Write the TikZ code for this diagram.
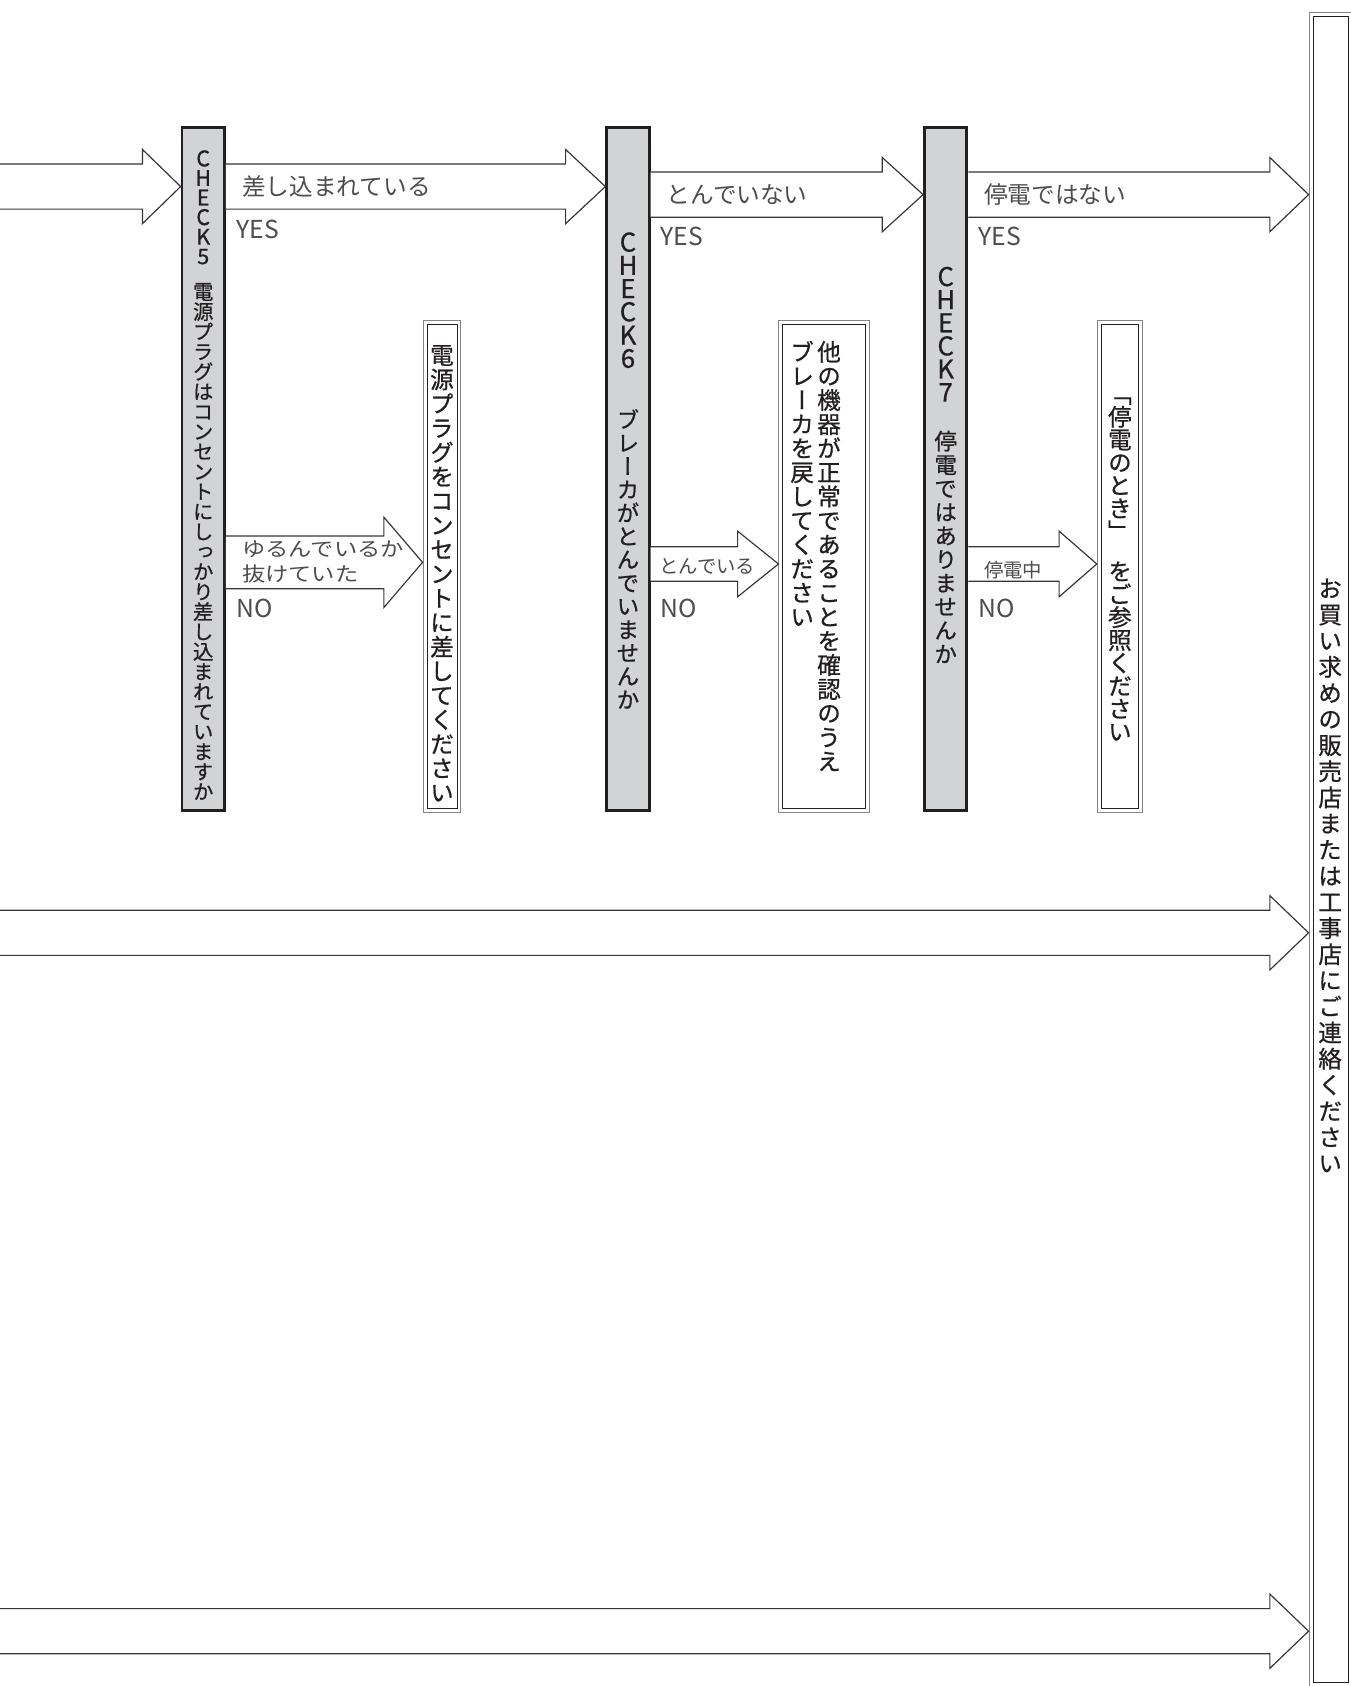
\documentclass[tikz,border=0pt]{standalone}
\usepackage{fontspec}
\setmainfont{Noto Sans CJK JP}
\newfontfamily\tatefont[RawFeature=+vert, FakeBold=0.7]{Noto Sans CJK JP}
\usetikzlibrary{calc, positioning}

\definecolor{ink}{HTML}{231F20}
\definecolor{boxgray}{HTML}{D1D3D4}

% 竖排：一字一行
\def\tateend{tate-end}
\def\tatesp{tate-sp}
\def\tatei#1{\ifx#1\tateend\else\ifx#1\tatesp\vskip.75\baselineskip\else\hbox to 0pt{\hss\smash{#1}\hss}\fi\expandafter\tatei\fi}
\newcommand\tate[3]{{\fontsize{#1}{#2}\selectfont\vtop{\lineskiplimit=-\maxdimen\lineskip=0pt\tatei#3\tateend}}}

% 空心箭头：起点、尖端、杆半宽、头半宽、头长
\newcommand\blockarrow[5]{\filldraw[arrowbody] ($(#1)+(0,#3)$) -- ($(#2)+(-#5,#3)$) -- ($(#2)+(-#5,#4)$) -- (#2)
  -- ($(#2)+(-#5,-#4)$) -- ($(#2)+(-#5,-#3)$) -- ($(#1)+(0,-#3)$);}

\begin{document}
\begin{tikzpicture}[x=1pt, y=-1pt,
  chkbox/.style={draw=ink, line width=2.6pt, fill=boxgray, inner sep=0pt, minimum width=39.4, minimum height=635.4},
  dblbox/.style={draw=ink!55, line width=.9pt, fill=white, inner sep=0pt,
    path picture={\draw[ink, line width=.7pt] ($(path picture bounding box.south west)+(3.6,-3.6)$)
      rectangle ($(path picture bounding box.north east)+(-3.6,3.6)$);}},
  arrowbody/.style={draw=ink!90, line width=1.1pt, fill=white},
  tatetxt/.style={font=\tatefont, text=ink, inner sep=0pt, anchor=north},
  lbl/.style={text=ink!80, inner sep=0pt, anchor=west, font=\fontsize{22}{26}\selectfont},
  yn/.style={lbl, font=\fontsize{23}{26}\selectfont}]
  \useasboundingbox (0,0) rectangle (1256,1568);
  \fill[white] (0,0) rectangle (1256,1568);

  % 判断框（灰）
  \node[chkbox] (chk5) at (189,436) {};
  \node[chkbox] (chk6) at (584,436) {};
  \node[chkbox] (chk7) at (879.5,436) {};

  % 处理框（双线）
  \node[dblbox, minimum width=35.1, minimum height=457.1] (ans5) at (411,527) {};
  \node[dblbox, minimum width=84.1, minimum height=457.1] (ans6) at (766.5,527) {};
  \node[dblbox, minimum width=42.1, minimum height=457.1] (ans7) at (1041.5,527) {};
  \node[dblbox, minimum width=40.1, minimum height=1556] (shop) at (1237.5,790) {};

  % 箭头
  \coordinate (in1) at (0,173.5);
  \coordinate (in2) at (0,867.5);
  \coordinate (in3) at (0,1517);
  \coordinate (r2) at (0,181);
  \coordinate (r3) at (0,523);
  \coordinate (r4) at (0,524.5);
  \blockarrow{in1}{chk5.west |- in1}{21}{34.5}{35.5}
  \blockarrow{chk5.east |- in1}{chk6.west |- in1}{21}{34.5}{37}
  \blockarrow{chk6.east |- r2}{chk7.west |- r2}{21}{34.5}{38}
  \blockarrow{chk7.east |- r2}{shop.west |- r2}{21}{34.5}{36}
  \blockarrow{chk5.east |- r3}{ans5.west |- r3}{24.5}{42}{36}
  \blockarrow{chk6.east |- r4}{ans6.west |- r4}{16}{30.5}{38}
  \blockarrow{chk7.east |- r4}{ans7.west |- r4}{16}{30.5}{35}
  \blockarrow{in2}{shop.west |- in2}{21}{34.5}{36}
  \blockarrow{in3}{shop.west |- in3}{21}{34.5}{36}

  % 竖排文字
  \node[tatetxt] (q5) at (189,154.5) {\vtop{\offinterlineskip\tate{20}{18.2}{CHECK5}\vskip32.7pt
    \tate{19}{18.6}{電源プラグはコンセントにしっかり差し込まれていますか}}};
  \node[tatetxt] (q6) at (584,233.8) {\vtop{\offinterlineskip\tate{24}{21.6}{CHECK6}\vskip56.2pt
    \tate{21}{21.7}{ブレーカがとんでいませんか}}};
  \node[tatetxt] (q7) at (879.5,265.8) {\vtop{\offinterlineskip\tate{24}{21.5}{CHECK7}\vskip44.7pt
    \tate{21}{22}{停電ではありませんか}}};
  \node[tatetxt] (t5) at (411,338.4) {\tate{22}{22.6}{電源プラグをコンセントに差してください}};
  \node[tatetxt] (t6) at (758.5,335.4) {\hbox{\tate{22}{22.4}{ブレーカを戻してください}\hskip25pt
    \tate{22}{22.4}{他の機器が正常であることを確認のうえ}}};
  \node[tatetxt] (t7) at (1041.5,374.4) {\tate{22}{21.3}{「停電のとき」\tatesp をご参照ください}};
  \node[tatetxt] (ts) at (1237,555.4) {\tate{22}{24.3}{お買い求めの販売店または工事店にご連絡ください}};

  % 箭头上的文字
  \node[lbl] (l5) at (225,173) {差し込まれている};
  \node[lbl] (l6) at (620,181) {とんでいない};
  \node[lbl] (l7) at (915,181) {停電ではない};
  \node[lbl, align=left, font=\fontsize{18.5}{23}\selectfont] (n5) at (225,522.5)
    {\scalebox{1.17}[1]{ゆるんでいるか}\\\scalebox{1.17}[1]{抜けていた}};
  \node[lbl, font=\fontsize{18}{22}\selectfont] (n6) at (613,527) {とんでいる};
  \node[lbl, font=\fontsize{18}{22}\selectfont] (n7) at (915,530) {停電中};
  \node[yn] (y5) at (220,213) {YES};
  \node[yn] (y6) at (614,220) {YES};
  \node[yn] (y7) at (910,220) {YES};
  \node[yn] (o5) at (220,566) {NO};
  \node[yn] (o6) at (614,566) {NO};
  \node[yn] (o7) at (910,566) {NO};
\end{tikzpicture}
\end{document}
